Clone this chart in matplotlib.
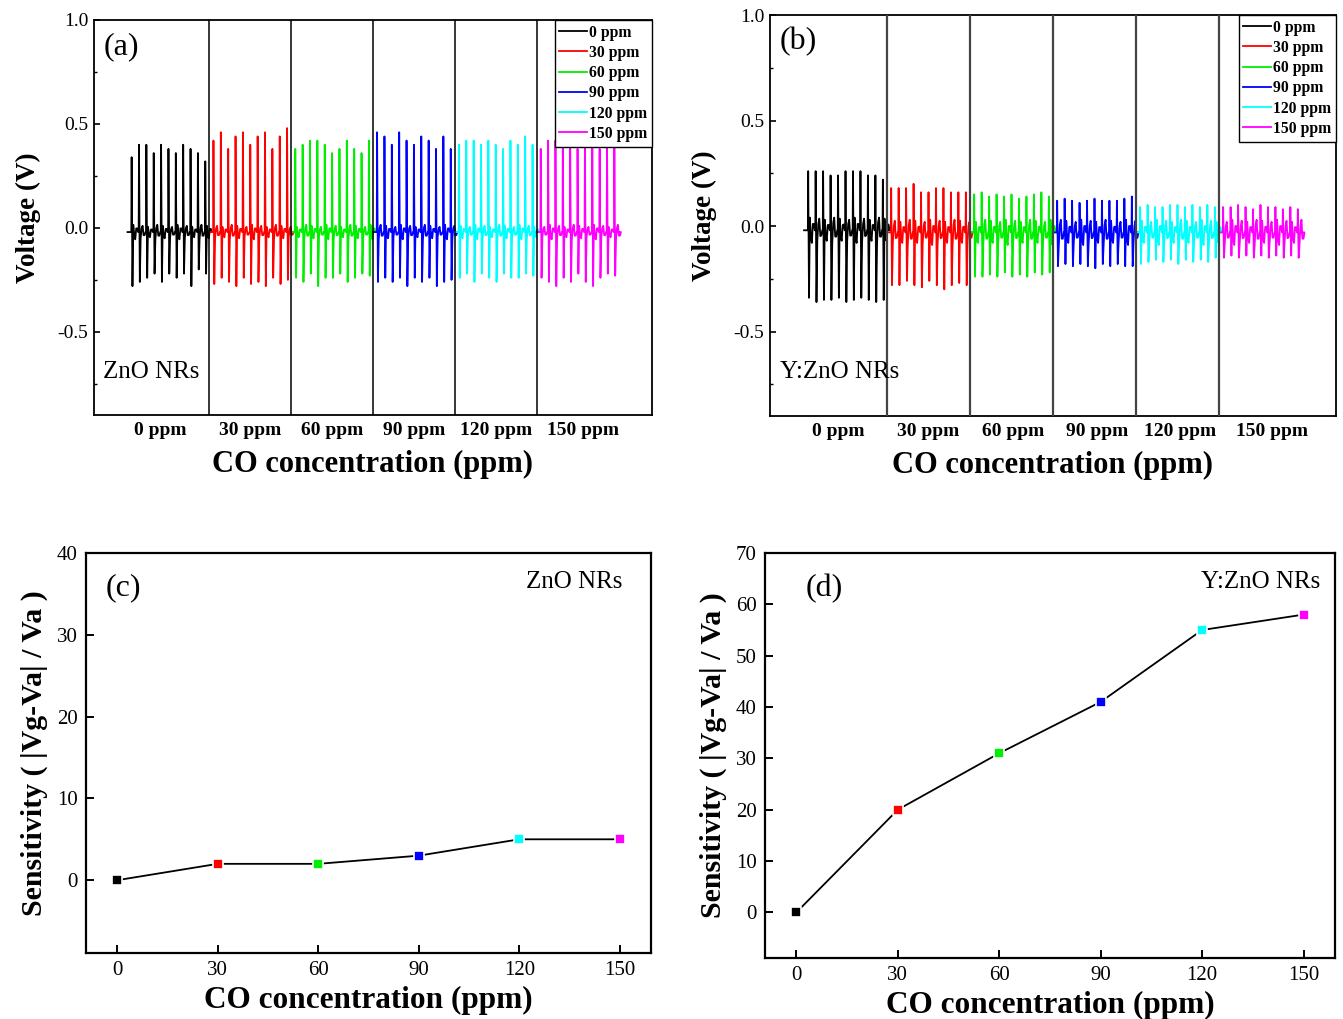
import matplotlib
matplotlib.use("Agg")
import matplotlib.pyplot as plt
from matplotlib.lines import Line2D

plt.rcParams['font.family'] = ['Liberation Serif', 'DejaVu Serif']
plt.rcParams['mathtext.fontset'] = 'stix'

# ---------------- data ----------------
concentrations = [0, 30, 60, 90, 120, 150]
seg_labels = ["0 ppm", "30 ppm", "60 ppm", "90 ppm", "120 ppm", "150 ppm"]
colors = ["#000000", "#ff0000", "#00ee00", "#0000ff", "#00ffff", "#ff00ff"]

# panel (a) ZnO NRs: pulse peak / trough voltages per segment (V)
peaks_a = [
    [0.34, 0.40, 0.40, 0.36, 0.40, 0.38, 0.36, 0.40, 0.38, 0.36, 0.32],
    [0.42, 0.46, 0.38, 0.44, 0.46, 0.40, 0.44, 0.46, 0.38, 0.44, 0.48],
    [0.38, 0.40, 0.42, 0.42, 0.40, 0.36, 0.38, 0.42, 0.38, 0.36, 0.42],
    [0.46, 0.44, 0.40, 0.46, 0.42, 0.40, 0.44, 0.42, 0.38, 0.44, 0.38],
    [0.40, 0.42, 0.42, 0.40, 0.42, 0.40, 0.38, 0.42, 0.40, 0.44, 0.40],
    [0.38, 0.42, 0.42, 0.40, 0.42, 0.38, 0.40, 0.42, 0.38, 0.42, 0.40],
]
troughs_a = [
    [-0.28, -0.26, -0.24, -0.22, -0.26, -0.22, -0.24, -0.22, -0.28, -0.20, -0.22],
    [-0.27, -0.24, -0.26, -0.28, -0.24, -0.27, -0.26, -0.28, -0.24, -0.27, -0.25],
    [-0.24, -0.26, -0.22, -0.28, -0.24, -0.24, -0.22, -0.26, -0.24, -0.22, -0.23],
    [-0.26, -0.24, -0.26, -0.24, -0.28, -0.24, -0.26, -0.24, -0.28, -0.26, -0.25],
    [-0.24, -0.22, -0.26, -0.22, -0.24, -0.26, -0.22, -0.24, -0.24, -0.22, -0.23],
    [-0.24, -0.26, -0.28, -0.24, -0.26, -0.22, -0.26, -0.28, -0.24, -0.22, -0.23],
]
baseline_a = [-0.02, -0.02, -0.02, -0.02, -0.02, -0.02]
ripple_a = [0.035, -0.03, 0.025, -0.035, 0.03, -0.025]

# panel (b) Y:ZnO NRs
peaks_b = [
    [0.26, 0.26, 0.26, 0.24, 0.24, 0.26, 0.26, 0.26, 0.24, 0.24, 0.22],
    [0.18, 0.18, 0.18, 0.20, 0.16, 0.16, 0.18, 0.18, 0.16, 0.16, 0.16],
    [0.15, 0.16, 0.14, 0.15, 0.14, 0.15, 0.13, 0.14, 0.15, 0.16, 0.14],
    [0.12, 0.13, 0.12, 0.11, 0.12, 0.13, 0.12, 0.12, 0.12, 0.13, 0.14],
    [0.09, 0.10, 0.09, 0.09, 0.10, 0.10, 0.09, 0.10, 0.09, 0.10, 0.09],
    [0.09, 0.09, 0.10, 0.09, 0.08, 0.10, 0.09, 0.09, 0.08, 0.09, 0.08],
]
troughs_b = [
    [-0.34, -0.36, -0.35, -0.35, -0.34, -0.36, -0.35, -0.34, -0.35, -0.36, -0.35],
    [-0.28, -0.28, -0.26, -0.28, -0.29, -0.26, -0.28, -0.30, -0.28, -0.27, -0.28],
    [-0.24, -0.24, -0.23, -0.24, -0.22, -0.24, -0.23, -0.24, -0.22, -0.23, -0.22],
    [-0.19, -0.18, -0.19, -0.18, -0.19, -0.20, -0.18, -0.19, -0.18, -0.19, -0.19],
    [-0.18, -0.17, -0.16, -0.17, -0.16, -0.18, -0.16, -0.17, -0.16, -0.17, -0.15],
    [-0.15, -0.14, -0.15, -0.14, -0.15, -0.14, -0.15, -0.14, -0.15, -0.14, -0.15],
]
baseline_b = [-0.02, -0.03, -0.03, -0.03, -0.03, -0.03]
ripple_b = [0.06, -0.05, 0.05, -0.06, 0.055, -0.05]

# panels (c), (d): sensitivity
sens_c = [0, 2, 2, 3, 5, 5]
sens_d = [0, 20, 31, 41, 55, 58]

label_pos_a = [0.4, 1.5, 2.5, 3.5, 4.5, 5.57]
label_pos_b = [0.41, 1.49, 2.52, 3.53, 4.53, 5.64]


def waveform(seg, peaks, troughs, base, ripple):
    xs, ys = [seg], [base]
    n = len(peaks)
    for k in range(n):
        t = seg + 0.05 + k * 0.09
        r1 = ripple[(k + seg) % len(ripple)]
        r2 = ripple[(k + seg + 3) % len(ripple)]
        xs += [t - 0.004, t, t + 0.010, t + 0.020, t + 0.032, t + 0.044,
               t + 0.056, t + 0.068, t + 0.080]
        ys += [base, peaks[k], troughs[k], base + r1, base - 0.6 * r1,
               base + r2, base - 0.5 * r2, base + 0.5 * r1, base]
    xs.append(seg + 1)
    ys.append(base)
    return xs, ys


fig = plt.figure(figsize=(13.43, 10.19), dpi=100)

W, H = 1343, 1019


def add_ax(l, r, t, b):
    return fig.add_axes([l / W, 1 - b / H, (r - l) / W, (b - t) / H])


ax_a = add_ax(94, 652, 20, 415)
ax_b = add_ax(770, 1336, 15, 416)
ax_c = add_ax(86, 651, 553, 953)
ax_d = add_ax(765, 1335, 553, 958)

for ax, peaks, troughs, base, ripple, lpos, tag, name, vcol in [
    (ax_a, peaks_a, troughs_a, baseline_a, ripple_a, label_pos_a, "(a)", "ZnO NRs", "black"),
    (ax_b, peaks_b, troughs_b, baseline_b, ripple_b, label_pos_b, "(b)", "Y:ZnO NRs", "#444444"),
]:
    for i in range(6):
        xs, ys = waveform(i, peaks[i], troughs[i], base[i], ripple)
        ax.plot(xs, ys, color=colors[i], lw=1.3)
    for i in range(1, 6):
        ax.axvline(i, color=vcol, lw=1.1 if vcol == "black" else 1.6, zorder=3)
    ax.set_xlim(-0.41, 6.41)
    ax.set_ylim(-0.9, 1.0)
    ax.set_yticks([-0.5, 0.0, 0.5, 1.0])
    ax.set_yticklabels(["-0.5", "0.0", "0.5", "1.0"])
    ax.set_yticks([-0.75, -0.25, 0.25, 0.75], minor=True)
    ax.set_xticks(lpos)
    ax.set_xticklabels(seg_labels, fontweight='bold', fontsize=14)
    ax.tick_params(axis='x', length=0, pad=5)
    ax.tick_params(axis='y', which='major', direction='in', length=4, width=1.2,
                   labelsize=14, pad=4)
    ax.tick_params(axis='y', which='minor', direction='in', length=2.5, width=1.0)
    ax.set_ylabel("Voltage (V)", fontsize=19.5, fontweight='bold', labelpad=12)
    ax.set_xlabel("CO concentration (ppm)", fontsize=22, fontweight='bold', labelpad=8)
    ax.text(0.017, 0.97, tag, transform=ax.transAxes, fontsize=23, va='top', ha='left')
    ax.text(0.017, 0.11, name, transform=ax.transAxes, fontsize=18, va='center', ha='left')
    for s in ax.spines.values():
        s.set_linewidth(1.3)
    handles = [Line2D([0], [0], color=c, lw=1.3) for c in colors]
    leg = ax.legend(handles, seg_labels, loc='upper right', borderaxespad=0.0,
                    prop={'weight': 'bold', 'size': 11.3, 'family': 'Liberation Serif'},
                    handlelength=1.75, handletextpad=0.15, labelspacing=0.27,
                    borderpad=0.3, fancybox=False, framealpha=1)
    leg.get_frame().set_edgecolor('black')
    leg.get_frame().set_linewidth(1.0)

for ax, sens, ylim, yt, tag, name, tagx, namex in [
    (ax_c, sens_c, (-8.9, 40), [0, 10, 20, 30, 40], "(c)", "ZnO NRs", 0.034, 0.949),
    (ax_d, sens_d, (-8.9, 70), [0, 10, 20, 30, 40, 50, 60, 70], "(d)", "Y:ZnO NRs", 0.072, 0.974),
]:
    ax.plot(concentrations, sens, color='black', lw=1.3, zorder=2)
    for xv, yv, c in zip(concentrations, sens, colors):
        ax.plot([xv], [yv], marker='s', ms=7, color=c, mec='white', mew=1.2,
                linestyle='none', zorder=3)
    ax.set_xlim(-9.3, 159.3)
    ax.set_ylim(*ylim)
    ax.set_xticks(concentrations)
    ax.set_yticks(yt)
    ax.tick_params(direction='in', length=6, width=1.4, labelsize=15, pad=6)
    ax.set_xlabel("CO concentration (ppm)", fontsize=22.5, fontweight='bold', labelpad=4)
    ax.set_ylabel("Sensitivity ( |Vg-Va| / Va )", fontsize=21.5, fontweight='bold', labelpad=6)
    ax.text(tagx, 0.913, tag, transform=ax.transAxes, fontsize=23, va='center', ha='left')
    ax.text(namex, 0.928, name, transform=ax.transAxes, fontsize=18, va='center', ha='right')
    for s in ax.spines.values():
        s.set_linewidth(1.6)

fig.savefig("out.png", dpi=100)
